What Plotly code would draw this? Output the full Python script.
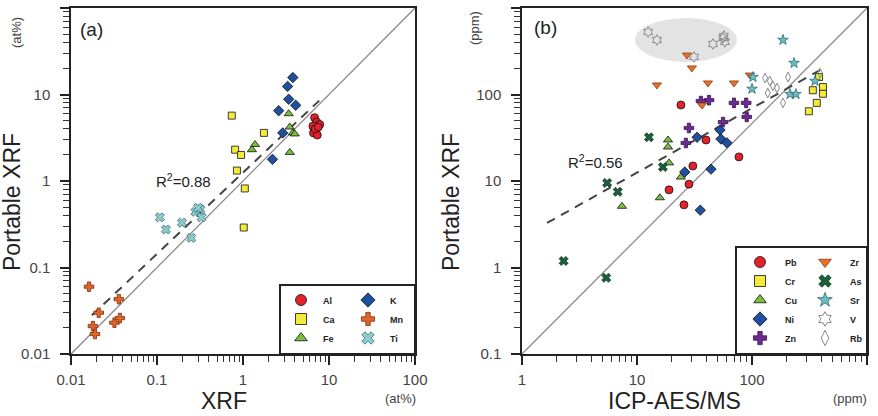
import plotly.graph_objects as go

W, H = 878, 416
FONT = "Liberation Sans, Arial, sans-serif"

# ---------------- Panel (a) data (at%) ----------------
al_x = [6.8, 7.2, 6.5, 7.8, 7.0, 6.6, 7.3, 6.9, 7.5]
al_y = [5.4, 4.8, 4.3, 4.5, 3.9, 3.6, 3.4, 4.0, 4.2]
ca_x = [0.74, 1.75, 0.81, 0.95, 0.85, 1.05, 1.02]
ca_y = [5.7, 3.6, 2.3, 2.0, 1.32, 0.82, 0.29]
fe_x = [3.4, 3.5, 3.8, 4.0, 3.5, 1.38, 1.27]
fe_y = [6.0, 4.2, 3.6, 3.5, 2.14, 2.64, 2.3]
k_x = [3.8, 3.3, 3.4, 4.1, 2.6, 2.9, 2.2]
k_y = [15.7, 12.4, 8.8, 7.5, 6.5, 3.6, 1.78]
mn_x = [0.0162, 0.021, 0.018, 0.019, 0.036, 0.032, 0.037]
mn_y = [0.060, 0.030, 0.021, 0.017, 0.043, 0.023, 0.026]
ti_x = [0.108, 0.127, 0.195, 0.28, 0.32, 0.33, 0.25, 0.30]
ti_y = [0.38, 0.275, 0.33, 0.44, 0.47, 0.38, 0.22, 0.49]
fit_a_x = [0.0175, 7.7]
fit_a_y = [0.028, 8.5]
one_a = [0.01, 100]

# ---------------- Panel (b) data (ppm) ----------------
pb_x = [24.1, 39.8, 30.6, 77, 28.3, 19, 25.6]
pb_y = [75.6, 29.8, 14.9, 19, 9.2, 7.9, 5.3]
cr_x = [383, 338, 414, 414, 366, 312]
cr_y = [159, 112, 122, 102, 80, 64]
cu_x = [18.6, 18.6, 19, 24.1, 15.8, 7.4]
cu_y = [29.8, 24.7, 16.2, 11.1, 6.4, 5.1]
ni_x = [33.3, 52.7, 53.7, 60.5, 44, 26, 35.5]
ni_y = [32, 38.9, 30.6, 27.6, 13.7, 12.7, 4.6]
zn_x = [42.3, 36, 69.7, 89, 90, 56, 28.3, 26.6]
zn_y = [86, 84, 80, 80, 55, 48, 41, 27.5]
zr_x = [27.2, 30, 14.9, 41.4, 36.8, 69.7, 96]
zr_y = [286, 203, 129, 136, 75.6, 136, 168]
as_x = [12.7, 16.8, 5.5, 6.8, 2.3, 5.4]
as_y = [32, 14.5, 9.5, 7.5, 1.19, 0.76]
sr_x = [186, 232, 102, 100, 214, 241, 353]
sr_y = [427, 231, 159, 116, 101, 101, 143]
v_x = [12.5, 14.9, 31.3, 45.8, 56, 58, 57]
v_y = [528, 427, 272, 384, 450, 406, 475]
rb_x = [130, 143, 152, 137, 165, 206, 186, 390]
rb_y = [155, 143, 126, 104, 119, 159, 80, 177]
fit_b_x = [1.65, 406]
fit_b_y = [3.27, 197]
one_b_x = [1, 1000]
one_b_y = [0.1, 1000]
ellipse_x = [9.6, 74]
ellipse_y = [238, 766]

# ---------------- Figure ----------------
fig = go.Figure()

def px2x(p):
    return p / W

def px2y(p):
    return 1 - p / H

def add_series(name, xs, ys, xa, ya, symbol, color, line_color="#111", size=8,
               lw=0.8, legend="legend", group=None):
    mk = dict(symbol=symbol, color=color, line=dict(color=line_color, width=lw))
    fig.add_trace(go.Scatter(
        x=xs, y=ys, mode="markers", name=name, xaxis=xa, yaxis=ya,
        showlegend=False, marker=dict(size=size, **mk),
    ))
    # legend-only entry with a larger symbol, as in the reference key
    fig.add_trace(go.Scatter(
        x=[None], y=[None], mode="markers", name=name, xaxis=xa, yaxis=ya,
        legend=legend, legendgroup=group, showlegend=True,
        marker=dict(size=11, **mk),
    ))

# reference lines panel a
fig.add_trace(go.Scatter(x=one_a, y=one_a, mode="lines", xaxis="x", yaxis="y",
                         line=dict(color="#8a8a8a", width=1.3), showlegend=False))
fig.add_trace(go.Scatter(x=fit_a_x, y=fit_a_y, mode="lines", xaxis="x", yaxis="y",
                         line=dict(color="#444", width=2, dash="9px,7px"), showlegend=False))

# panel a series: column 1 (Al, Ca, Fe), column 2 (K, Mn, Ti)
add_series("Al", al_x, al_y, "x", "y", "circle", "#e4212a", group="a1")
add_series("Ca", ca_x, ca_y, "x", "y", "square", "#f3ea3b", size=7, group="a1")
add_series("Fe", fe_x, fe_y, "x", "y", "triangle-up", "#7bbd3f", group="a1")
add_series("K", k_x, k_y, "x", "y", "diamond", "#1f4f9f", group="a2")
add_series("Mn", mn_x, mn_y, "x", "y", "cross", "#e0652a", line_color="#7a3010", group="a2")
add_series("Ti", ti_x, ti_y, "x", "y", "x", "#8ecbcc", line_color="#2f6f76", group="a2")

# panel b shapes/lines
fig.add_shape(type="circle", xref="x2", yref="y2",
              x0=ellipse_x[0], x1=ellipse_x[1], y0=ellipse_y[0], y1=ellipse_y[1],
              fillcolor="#e3e3e3", line=dict(width=0), layer="below")
fig.add_trace(go.Scatter(x=one_b_x, y=one_b_y, mode="lines", xaxis="x2", yaxis="y2",
                         line=dict(color="#8a8a8a", width=1.3), showlegend=False))
fig.add_trace(go.Scatter(x=fit_b_x, y=fit_b_y, mode="lines", xaxis="x2", yaxis="y2",
                         line=dict(color="#444", width=2, dash="9px,7px"), showlegend=False))

add_series("Pb", pb_x, pb_y, "x2", "y2", "circle", "#e4212a", legend="legend2", group="b1")
add_series("Cr", cr_x, cr_y, "x2", "y2", "square", "#f3ea3b", size=7, legend="legend2", group="b1")
add_series("Cu", cu_x, cu_y, "x2", "y2", "triangle-up", "#7bbd3f", legend="legend2", group="b1")
add_series("Ni", ni_x, ni_y, "x2", "y2", "diamond", "#1f4f9f", legend="legend2", group="b1")
add_series("Zn", zn_x, zn_y, "x2", "y2", "cross", "#6a2c8e", line_color="#3a1050", legend="legend2", group="b1")
add_series("Zr", zr_x, zr_y, "x2", "y2", "triangle-down", "#e8712a", line_color="#8a3a10", legend="legend2", group="b2")
add_series("As", as_x, as_y, "x2", "y2", "x", "#1c5e3c", line_color="#0e3a22", legend="legend2", group="b2")
add_series("Sr", sr_x, sr_y, "x2", "y2", "star", "#6cbcc0", line_color="#2f6f76", legend="legend2", group="b2")
add_series("V", v_x, v_y, "x2", "y2", "hexagram-open", "#8a8a8a", lw=1, legend="legend2", group="b2")
add_series("Rb", rb_x, rb_y, "x2", "y2", "diamond-tall-open", "#8a8a8a", size=7, lw=1, legend="legend2", group="b2")

tickfont = dict(family=FONT, size=15, color="#444")

def axis(domain, rng, anchor, standoff):
    return dict(type="log", domain=domain, range=rng, anchor=anchor,
                showline=True, linecolor="#222", linewidth=1.5, mirror=True,
                ticks="outside", ticklen=9, tickwidth=1.5, tickcolor="#222",
                dtick=1, showgrid=False, zeroline=False, tickfont=tickfont,
                ticklabelstandoff=standoff, exponentformat="none",
                minor=dict(ticks="outside", ticklen=6, tickwidth=1.4,
                           tickcolor="#333", dtick="D1"))

A_X, A_Y = [-2, 2], [-2, 2]
B_X, B_Y = [0, 3], [-1, 3]

ydom = [px2y(354), px2y(8)]
legend_common = dict(yanchor="bottom", xanchor="right", orientation="h",
                     bgcolor="white", bordercolor="#222", borderwidth=1.5,
                     font=dict(family=FONT, size=9, color="#222", weight="bold"),
                     itemclick=False, itemdoubleclick=False,
                     entrywidthmode="pixels")
layout = dict(
    width=W, height=H, margin=dict(l=0, r=0, t=0, b=0, autoexpand=False),
    paper_bgcolor="white", plot_bgcolor="white",
    font=dict(family=FONT, color="#222"),
    xaxis=axis([px2x(71), px2x(415)], A_X, "y", 2),
    yaxis=axis(ydom, A_Y, "x", 7),
    xaxis2=axis([px2x(522), px2x(867)], B_X, "y2", 2),
    yaxis2=axis(ydom, B_Y, "x2", 7),
    legend=dict(x=px2x(415), y=px2y(354), entrywidth=18, itemwidth=34, **legend_common),
    legend2=dict(x=px2x(867), y=px2y(354), entrywidth=10, itemwidth=40, **legend_common),
)
fig.update_layout(**layout)

def ann(text, x, y, size, angle=0, color="#222"):
    fig.add_annotation(text=text, x=px2x(x), y=px2y(y), xref="paper", yref="paper",
                       showarrow=False, textangle=angle,
                       font=dict(family=FONT, size=size, color=color),
                       xanchor="center", yanchor="middle")

ann("(a)", 91, 30, 19)
ann("(b)", 545, 28, 19)
ann("R<sup>2</sup>=0.88", 183, 180, 15)
ann("R<sup>2</sup>=0.56", 595, 162, 15)
ann("Portable XRF", 12, 202, 23, angle=-90)
ann("Portable XRF", 451, 202, 23, angle=-90)
ann("(at%)", 16, 33, 13, angle=-90, color="#444")
ann("(ppm)", 475, 28, 13, angle=-90, color="#444")
ann("XRF", 224, 401, 23)
ann("ICP-AES/MS", 674, 401, 23)
ann("(at%)", 400, 398, 13, color="#444")
ann("(ppm)", 850, 398, 13, color="#444")

fig.write_html("out.html")
